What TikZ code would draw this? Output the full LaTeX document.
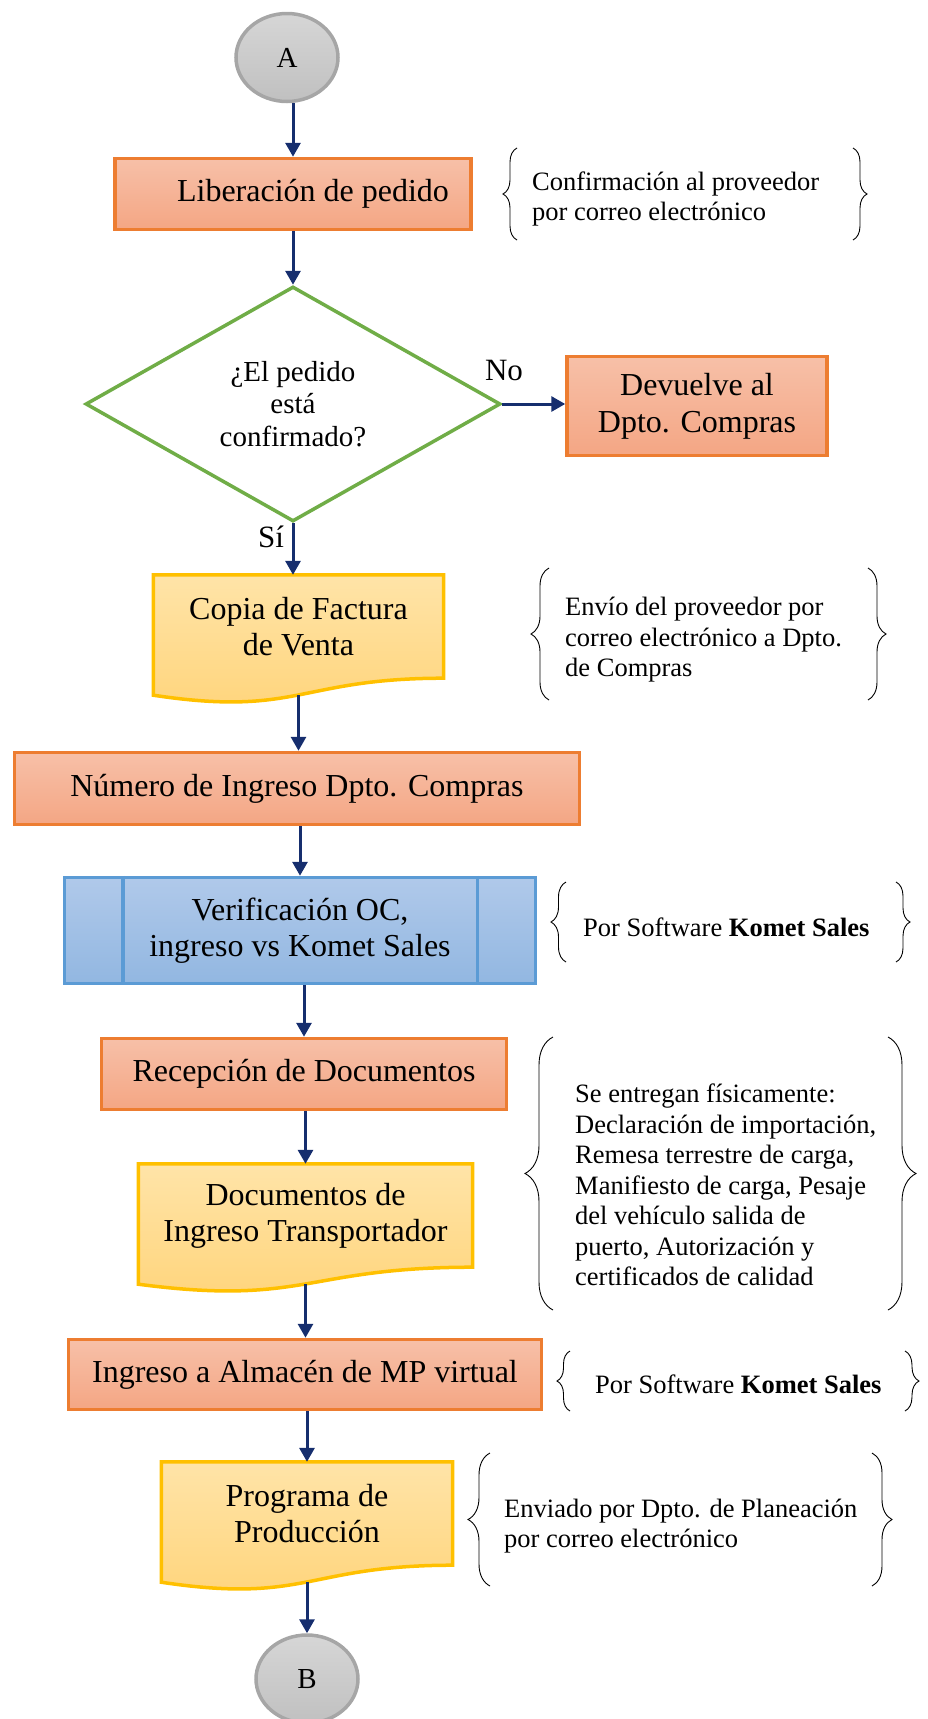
\documentclass[tikz,border=0pt]{standalone}
\usepackage{fontspec}
\setmainfont{Liberation Serif}
\usetikzlibrary{shapes.geometric,arrows.meta,decorations.pathreplacing,backgrounds}

\definecolor{orangeline}{RGB}{237,125,49}
\definecolor{orangetop}{RGB}{247,192,168}
\definecolor{orangebot}{RGB}{244,166,132}
\definecolor{yellowline}{RGB}{255,192,0}
\definecolor{yellowtop}{RGB}{255,228,168}
\definecolor{yellowbot}{RGB}{255,212,122}
\definecolor{blueline}{RGB}{91,155,213}
\definecolor{bluetop}{RGB}{176,201,234}
\definecolor{bluebot}{RGB}{146,183,225}
\definecolor{greenline}{RGB}{112,173,71}
\definecolor{grayline}{RGB}{166,166,166}
\definecolor{graytop}{RGB}{214,214,214}
\definecolor{graybot}{RGB}{192,192,192}
\definecolor{arrowblue}{RGB}{22,46,110}

\tikzset{
  box/.style={draw=orangeline, line width=3.5pt, top color=orangetop, bottom color=orangebot,
    inner sep=0pt, align=center, font=\fontsize{32}{37}\selectfont},
  docbox/.style={inner sep=0pt, align=center, minimum height=103pt, font=\fontsize{32}{36}\selectfont},
  docfill/.style={draw=yellowline, line width=3.5pt, top color=yellowtop, bottom color=yellowbot},
  subproc/.style={draw=blueline, line width=3.5pt, top color=bluetop, bottom color=bluebot,
    inner sep=0pt, align=center, font=\fontsize{32}{36}\selectfont},
  decision/.style={diamond, draw=greenline, line width=3.5pt, fill=white, inner sep=0pt,
    align=center, font=\fontsize{29}{32.5}\selectfont},
  connector/.style={ellipse, draw=grayline, line width=3.5pt, top color=graytop, bottom color=graybot,
    inner sep=0pt, minimum width=102pt, minimum height=88pt, font=\fontsize{29}{34}\selectfont},
  flow/.style={draw=arrowblue, line width=3pt, -{Triangle[width=15pt,length=14pt]}},
  note/.style={anchor=west, align=left, inner sep=0pt, font=\fontsize{26.5}{30.5}\selectfont},
  bracket/.style={decorate, decoration={brace, amplitude=#1}, line width=0.9pt},
  lbl/.style={inner sep=0pt, font=\fontsize{31}{34}\selectfont}
}

\begin{document}
\begin{tikzpicture}[x=1pt, y=-1pt]
  \useasboundingbox (0,0) rectangle (927,1719);

  % main column
  \node[connector] (A) at (287,57.5) {A};
  \node[box, minimum width=356pt, minimum height=71pt] (liber) at (293,194) {\hspace*{40pt}Liberación de pedido};
  \node[decision, minimum width=415pt, minimum height=235pt] (dec) at (293,404) {¿El pedido\\está\\confirmado?};
  \node[box, minimum width=260pt, minimum height=99pt] (devuelve) at (697,406) {Devuelve al\\Dpto. Compras};
  \node[docbox, minimum width=290pt] (copia) at (298.5,626.5) {Copia de Factura\\de Venta};
  \node[box, minimum width=565pt, minimum height=72pt] (numero) at (297,788.5) {Número de Ingreso Dpto. Compras};
  \node[subproc, minimum width=471pt, minimum height=106pt] (verif) at (300,930.5) {Verificación OC,\\ingreso vs Komet Sales};
  \node[box, minimum width=405pt, minimum height=71pt] (recep) at (304,1074) {Recepción de Documentos};
  \node[docbox, minimum width=334pt] (docum) at (305.5,1215.5) {Documentos de\\Ingreso Transportador};
  \node[box, minimum width=473pt, minimum height=70pt] (ingreso) at (305,1374.5) {Ingreso a Almacén de MP virtual};
  \node[docbox, minimum width=291pt] (progr) at (307,1513.5) {Programa de\\Producción};
  \node[connector] (B) at (307,1679) {B};

  \node[lbl] (lblno) at (504,370) {No};
  \node[lbl] (lblsi) at (271,537) {Sí};

  % document shapes
  \begin{scope}[on background layer]
    \foreach \d in {copia,docum,progr}
      \path[docfill] (\d.north west) -- (\d.north east) -- (\d.south east)
        .. controls (\d.south) and ([yshift=-39pt]\d.south) .. ([yshift=-17pt]\d.south west) -- cycle;
  \end{scope}
  \coordinate (copia-w) at ([yshift=-17pt]copia.south);
  \coordinate (docum-w) at ([yshift=-17pt]docum.south);
  \coordinate (progr-w) at ([yshift=-17pt]progr.south);

  % predefined process bars
  \draw[blueline, line width=3.5pt] ([xshift=60pt]verif.north west) -- ([xshift=60pt]verif.south west);
  \draw[blueline, line width=3.5pt] ([xshift=-60pt]verif.north east) -- ([xshift=-60pt]verif.south east);

  % arrows
  \draw[flow] (liber.north |- A.south) -- (liber.north);
  \draw[flow] (liber.south) -- (dec.north);
  \draw[flow] (dec.east) -- (dec.east -| devuelve.west);
  \draw[flow] (dec.south) -- (dec.south |- copia.north);
  \draw[flow] (copia-w) -- (copia-w |- numero.north);
  \draw[flow] (verif.north |- numero.south) -- (verif.north);
  \draw[flow] (recep.north |- verif.south) -- (recep.north);
  \draw[flow] (docum.north |- recep.south) -- (docum.north);
  \draw[flow] (docum-w) -- (docum-w |- ingreso.north);
  \draw[flow] (progr.north |- ingreso.south) -- (progr.north);
  \draw[flow] (progr-w) -- (progr-w |- B.north);

  % notes with braces
  \node[note] (n1) at (532,199) {Confirmación al proveedor\\por correo electrónico};
  \draw[bracket=14pt] (517,240) -- (517,148);
  \draw[bracket=14pt] (853,148) -- (853,240);

  \node[note] (n2) at (565,640) {Envío del proveedor por\\correo electrónico a Dpto.\\de Compras};
  \draw[bracket=18pt] (549,700) -- (549,568);
  \draw[bracket=18pt] (868,568) -- (868,700);

  \node[note] (n3) at (583,927) {Por Software \textbf{Komet Sales}};
  \draw[bracket=15pt] (566,962) -- (566,882);
  \draw[bracket=14pt] (896,882) -- (896,962);

  \node[note] (n4) at (575,1185) {Se entregan físicamente:\\Declaración de importación,\\Remesa terrestre de carga,\\Manifiesto de carga, Pesaje\\del vehículo salida de\\puerto, Autorización y\\certificados de calidad};
  \draw[bracket=28pt] (553,1310) -- (553,1037);
  \draw[bracket=28pt] (888,1037) -- (888,1310);

  \node[note] (n5) at (595,1384) {Por Software \textbf{Komet Sales}};
  \draw[bracket=13pt] (570,1411) -- (570,1351);
  \draw[bracket=14pt] (905,1351) -- (905,1411);

  \node[note] (n6) at (504,1526) {Enviado por Dpto. de Planeación\\por correo electrónico};
  \draw[bracket=22pt] (490,1586) -- (490,1453);
  \draw[bracket=20pt] (872,1453) -- (872,1586);
\end{tikzpicture}
\end{document}
